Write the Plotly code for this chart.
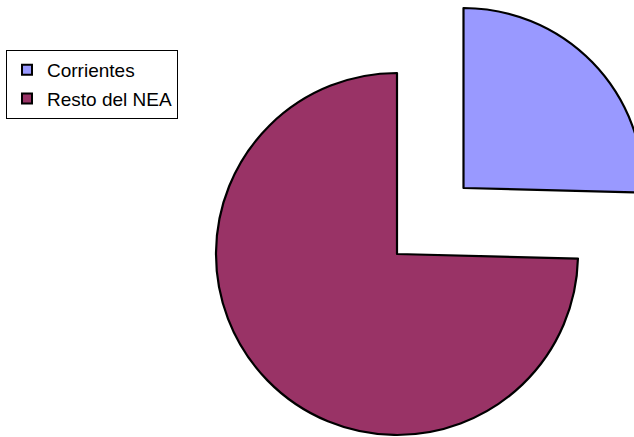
import plotly.graph_objects as go

labels = ["Corrientes", "Resto del NEA"]
values = [25.4, 74.6]
colors = ["#9999FF", "#993366"]

W, H = 650, 437
clear = "rgba(0,0,0,0)"


def dom(cx, cy, r):
    return dict(x=[max(0, (cx - r) / W), min(1, (cx + r) / W)],
                y=[max(0, (H - cy - r) / H), min(1, (H - cy + r) / H)])


fig = go.Figure()

# Resto del NEA (in place)
fig.add_trace(go.Pie(
    labels=labels, values=values, sort=False, direction="clockwise", rotation=0,
    marker=dict(colors=[clear, colors[1]], line=dict(color=[clear, "black"], width=[0, 2.2])),
    textinfo="none", hoverinfo="label+percent", showlegend=False,
    domain=dom(397, 254, 181),
))

# Corrientes (exploded slice)
fig.add_trace(go.Pie(
    labels=labels, values=values, sort=False, direction="clockwise", rotation=0,
    marker=dict(colors=[colors[0], clear], line=dict(color=["black", clear], width=[2.2, 0])),
    textinfo="none", hoverinfo="label+percent", showlegend=False,
    domain=dom(463.5, 188, 180),
))

# legend entries
for lab, col in zip(labels, colors):
    fig.add_trace(go.Scatter(
        x=[None], y=[None], mode="markers", name=lab, legendgroup=lab,
        marker=dict(symbol="square", size=10, color=col, line=dict(color="black", width=2)),
    ))

fig.update_layout(
    width=W, height=H, margin=dict(l=0, r=0, t=0, b=0),
    paper_bgcolor="white", plot_bgcolor="white",
    xaxis=dict(visible=False), yaxis=dict(visible=False),
    showlegend=True,
    legend=dict(x=6 / W, y=1 - 50 / H, xanchor="left", yanchor="top",
                bordercolor="black", borderwidth=1, bgcolor="white",
                font=dict(family="Liberation Sans, Arial, sans-serif", size=19, color="black"),
                tracegroupgap=1),
)

fig.write_html(
    "out.html",
    config={"displayModeBar": False},
    post_script="document.body.style.margin='0';"
                "document.body.style.overflow='hidden';"
                "document.documentElement.style.overflow='hidden';",
)
